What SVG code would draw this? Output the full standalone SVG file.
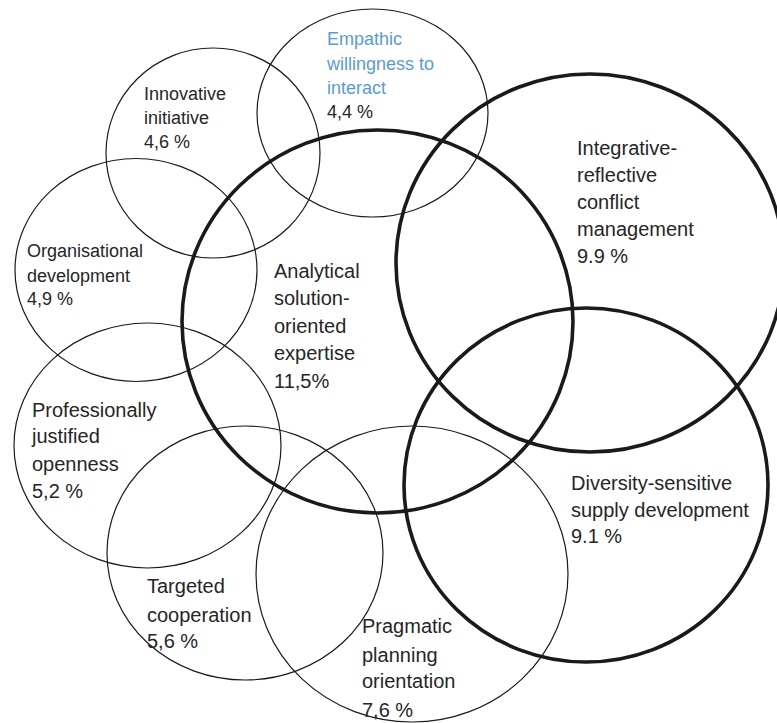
<svg xmlns="http://www.w3.org/2000/svg" width="777" height="723" viewBox="0 0 777 723">
<style>
.thin{fill:none;stroke:#1a1a1a;stroke-width:1.2}
.thick{fill:none;stroke:#1a1a1a;stroke-width:3.6}
.s{font-family:"Liberation Sans",Arial,sans-serif;font-size:18px;fill:#262626}
.l{font-family:"Liberation Sans",Arial,sans-serif;font-size:20px;fill:#262626}
.blue{fill:#5b9bd5}
</style>
<rect width="777" height="723" fill="#fff"/>
<g id="innovative"><ellipse class="thin" cx="213" cy="153" rx="107" ry="105"/>
<text class="s" x="144"><tspan x="144" y="100">Innovative</tspan><tspan x="144" y="124">initiative</tspan><tspan x="144" y="148">4,6 %</tspan></text></g>
<g id="empathic"><ellipse class="thin" cx="372.5" cy="113" rx="115.5" ry="104"/>
<text class="s"><tspan class="blue" x="327" y="45">Empathic</tspan><tspan class="blue" x="327" y="70">willingness to</tspan><tspan class="blue" x="327" y="94">interact</tspan><tspan x="327" y="118">4,4 %</tspan></text></g>
<g id="organisational"><ellipse class="thin" cx="136" cy="270" rx="121" ry="111.5"/>
<text class="s"><tspan x="27" y="257">Organisational</tspan><tspan x="27" y="282">development</tspan><tspan x="27" y="305">4,9 %</tspan></text></g>
<g id="professionally"><ellipse class="thin" cx="147.5" cy="445.5" rx="133.5" ry="122.5"/>
<text class="l"><tspan x="32" y="417">Professionally</tspan><tspan x="32" y="443">justified</tspan><tspan x="32" y="471">openness</tspan><tspan x="32" y="498">5,2 %</tspan></text></g>
<g id="targeted"><ellipse class="thin" cx="245" cy="553" rx="138" ry="127"/>
<text class="l"><tspan x="147" y="593">Targeted</tspan><tspan x="147" y="622">cooperation</tspan><tspan x="147" y="648">5,6 %</tspan></text></g>
<g id="pragmatic"><ellipse class="thin" cx="412" cy="574" rx="156" ry="148"/>
<text class="l"><tspan x="362" y="633">Pragmatic</tspan><tspan x="362" y="662">planning</tspan><tspan x="362" y="688">orientation</tspan><tspan x="362" y="717">7,6 %</tspan></text></g>
<g id="analytical"><ellipse class="thick" cx="377.5" cy="321.5" rx="195.5" ry="191.5"/>
<text class="l"><tspan x="274" y="278">Analytical</tspan><tspan x="274" y="305">solution-</tspan><tspan x="274" y="333">oriented</tspan><tspan x="274" y="360">expertise</tspan><tspan x="274" y="388">11,5%</tspan></text></g>
<g id="integrative"><ellipse class="thick" cx="590" cy="263" rx="194" ry="189"/>
<text class="l"><tspan x="577" y="155">Integrative-</tspan><tspan x="577" y="182">reflective</tspan><tspan x="577" y="209">conflict</tspan><tspan x="577" y="236">management</tspan><tspan x="577" y="263">9.9 %</tspan></text></g>
<g id="diversity"><ellipse class="thick" cx="586" cy="485" rx="182" ry="177"/>
<text class="l"><tspan x="571" y="490">Diversity-sensitive</tspan><tspan x="571" y="517">supply development</tspan><tspan x="571" y="543">9.1 %</tspan></text></g>
<g id="connectors"></g>
</svg>
